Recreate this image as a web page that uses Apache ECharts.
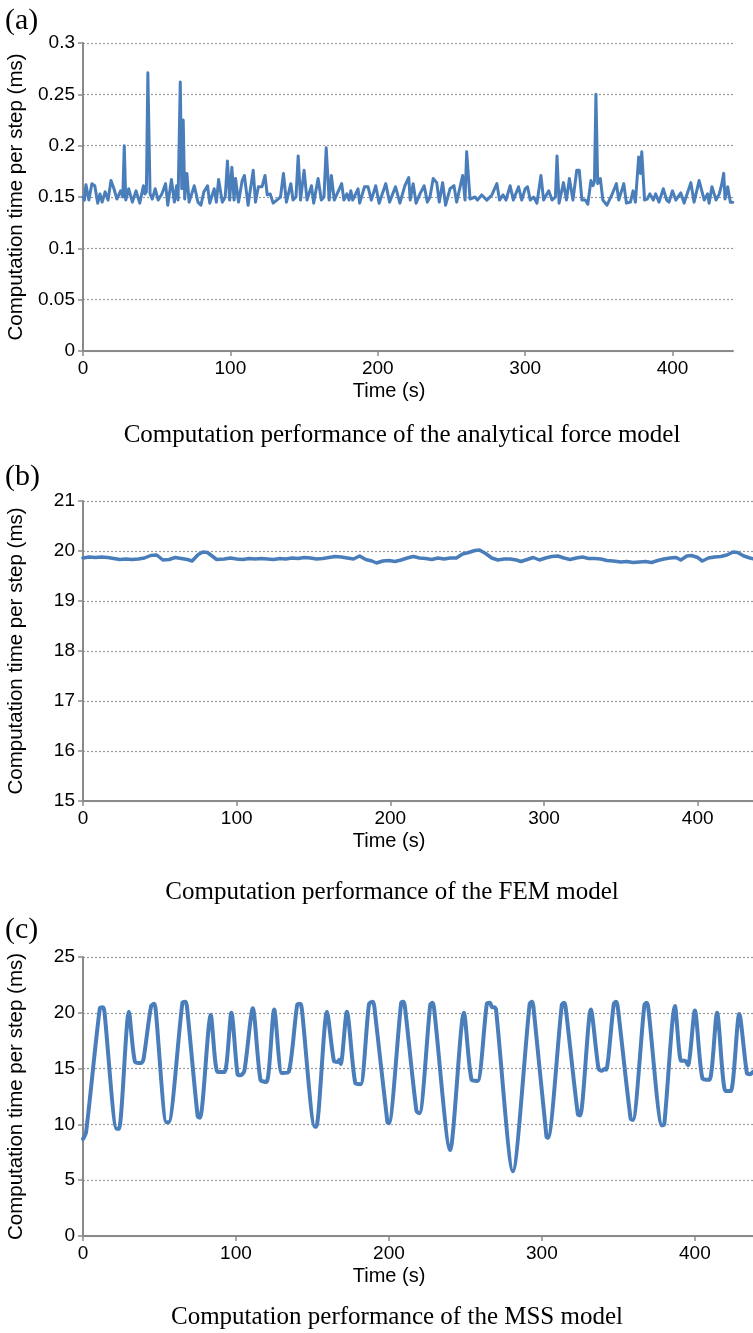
<!DOCTYPE html>
<html>
<head>
<meta charset="utf-8">
<script src="https://cdn.jsdelivr.net/npm/echarts@6/dist/echarts.min.js"></script>
<style>html,body{margin:0;padding:0;background:#fff}#c{width:753px;height:1333px}</style>
</head>
<body>
<div id="c"></div>
<script>
// ---------- DATA ----------
const xTickValues = [0, 100, 200, 300, 400];

// (a) analytical force model
const timeA = [0,1,2,4,6,8,10,11.5,13,15,17,19,21,23,25.5,27,28,29,31,33.5,36,38.5,41,42,43,44,45.5,47,49,51,53.5,56,57.5,60,62,63.5,64.5,66,67,68,69,70.5,72,73,75.5,78,80,82,84.5,86,89,90.5,92,94.5,96.5,98,99.5,101,102.5,103.5,105.5,108,109.5,112,115.5,117,119,121.5,123.5,125,127,129,131.5,134,136,138,141,142.5,144.5,146,147.6,150,152,155,156.5,159.5,161.7,163.5,165,167,168.5,170.5,173,175.5,177,179,180.5,181.7,183,186.6,187.7,191,193.4,195.6,198.6,200.9,205.4,208,212,215,218.4,221,222,224,226,228.6,231.5,233.6,235.4,237.6,240,241.7,244,246,249,251.7,253.5,257.6,259.2,260.3,262.6,266,267.6,270.5,274,277.4,280.8,282.6,285,287,289.8,292,295.5,297.7,300,301.6,303.4,305.7,308,310.7,312.5,316,318.2,320.5,321.6,323,326,328,330,332.4,335,336.7,338.5,340.8,342.5,344.6,346,347,348,349.2,351,352.7,355.5,358.8,361.9,363.5,366.9,368.7,371.4,373.2,374.8,377,378.2,379.1,381,382.8,384.6,386.9,388.5,390.8,393.7,396,397.6,399.9,402.2,405.6,407.8,412.4,414.6,418,421.5,423.7,424.8,426.7,429.5,431.7,433.3,434.7,435.6,437.4,439.2,440.8];
const valueA = [0.150,0.147,0.162,0.147,0.163,0.161,0.144,0.153,0.145,0.155,0.147,0.166,0.158,0.148,0.156,0.150,0.200,0.147,0.158,0.145,0.156,0.144,0.161,0.153,0.155,0.271,0.153,0.148,0.158,0.147,0.153,0.163,0.142,0.167,0.145,0.161,0.147,0.262,0.158,0.225,0.148,0.173,0.145,0.144,0.161,0.145,0.142,0.155,0.161,0.144,0.158,0.145,0.167,0.145,0.150,0.185,0.147,0.179,0.147,0.168,0.145,0.166,0.171,0.142,0.176,0.145,0.160,0.160,0.171,0.152,0.153,0.144,0.147,0.150,0.173,0.145,0.163,0.147,0.150,0.190,0.147,0.176,0.147,0.161,0.144,0.168,0.147,0.150,0.198,0.147,0.171,0.147,0.155,0.163,0.147,0.153,0.147,0.156,0.147,0.158,0.144,0.160,0.160,0.147,0.161,0.144,0.163,0.145,0.160,0.144,0.161,0.169,0.147,0.163,0.144,0.153,0.161,0.145,0.150,0.168,0.164,0.145,0.164,0.142,0.158,0.161,0.145,0.171,0.147,0.194,0.148,0.150,0.147,0.152,0.147,0.152,0.163,0.147,0.152,0.147,0.161,0.147,0.160,0.147,0.158,0.160,0.147,0.150,0.144,0.171,0.147,0.156,0.147,0.150,0.190,0.144,0.164,0.147,0.168,0.147,0.176,0.176,0.147,0.147,0.143,0.166,0.161,0.165,0.250,0.163,0.168,0.147,0.142,0.152,0.163,0.147,0.163,0.144,0.145,0.156,0.145,0.189,0.173,0.194,0.147,0.148,0.153,0.147,0.153,0.145,0.158,0.147,0.145,0.156,0.147,0.154,0.144,0.164,0.145,0.166,0.147,0.153,0.144,0.160,0.147,0.153,0.162,0.173,0.148,0.160,0.145,0.145];
const yTicksA = { min: 0, max: 0.3, step: 0.05 };

// (b) FEM model
const timeB = [0,4,8,12,16,20,24,28,32,36,40,44,48,52,56,60,64,68,71,75,78,81,84,87,92,96,100,104,108,112,116,120,124,128,132,136,140,144,148,152,156,160,164,168,172,176,180,184,188,191,195,199,203,207,211,215,219,223,227,231,235,239,243,247,251,255,258,262,266,270,274,278,282,285,289,293,297,301,305,309,313,317,321,325,329,333,337,341,345,350,354,358,362,366,370,374,378,382,386,389,393,396,400,403,407,411,415,419,423,426,430,434,437];
const valueB = [19.86,19.88,19.87,19.88,19.87,19.85,19.83,19.84,19.83,19.84,19.86,19.91,19.92,19.82,19.83,19.87,19.85,19.83,19.80,19.93,19.98,19.97,19.90,19.83,19.84,19.86,19.84,19.83,19.85,19.84,19.85,19.84,19.83,19.85,19.84,19.86,19.85,19.87,19.86,19.84,19.85,19.87,19.89,19.88,19.86,19.84,19.90,19.83,19.80,19.76,19.80,19.81,19.79,19.82,19.86,19.89,19.86,19.85,19.83,19.86,19.84,19.86,19.86,19.94,19.97,20.01,20.02,19.95,19.86,19.82,19.84,19.84,19.82,19.79,19.83,19.87,19.82,19.86,19.89,19.90,19.86,19.83,19.86,19.88,19.85,19.85,19.84,19.81,19.80,19.78,19.79,19.77,19.78,19.79,19.77,19.81,19.84,19.86,19.87,19.82,19.90,19.91,19.87,19.80,19.86,19.88,19.89,19.92,19.98,19.97,19.90,19.86,19.84];
const yTicksB = { min: 15, max: 21, step: 1 };

// (c) MSS model
const timeC = [0,2,11,13,14,22,23.5,30,34,38,39.5,44.5,46.5,47.5,54.5,56,65,67,68,75,76.5,83.5,88,92.5,97,101,103,105.5,111,116,120,125,130,134.5,140,142,143,151.5,152.5,159.5,164,166.5,167.5,168.5,172.5,178,181.5,187,189.5,190.5,199,200,208,209.5,210.5,218,220,227,228.5,229.5,240,249,254,258,264,266,267.5,269,270,281,292,293.5,294.5,303,304,313,314.5,315.5,323.5,325,332,337,339,341.5,342,347,348.5,349.5,358,359.5,367,368.5,369.5,378.5,380,387,391,393.5,395.5,400,405,409.5,414.5,420,423.5,429,434,436,438];
const valueC = [8.7,9.3,20.4,20.5,20.1,9.6,9.6,20.1,15.6,15.5,15.8,20.6,20.8,20.3,10.2,10.2,20.9,21.0,20.5,10.7,10.6,19.8,14.7,14.7,20.0,14.5,14.4,14.8,20.4,14.0,13.8,20.3,14.6,14.7,20.7,20.8,20.4,9.8,9.8,20.1,15.7,15.6,15.8,15.4,20.1,13.7,13.6,20.8,21.0,20.5,10.2,10.1,20.9,21.0,20.5,11.2,11.0,20.7,20.9,20.4,7.7,20.0,14.0,13.9,20.8,20.9,20.5,20.5,20.3,5.8,20.8,21.0,20.5,8.9,8.8,20.7,20.9,20.5,10.9,10.8,20.3,15.0,14.8,15.0,14.9,20.8,21.0,20.6,10.5,10.4,20.7,20.9,20.5,9.9,10.0,20.6,15.7,15.7,15.3,20.2,14.1,14.0,20.0,13.0,13.0,19.9,14.6,14.5,14.7];
const yTicksC = { min: 0, max: 25, step: 5 };

const panelLabels = ['(a)', '(b)', '(c)'];
const captions = [
  'Computation performance of the analytical force model',
  'Computation performance of the FEM model',
  'Computation performance of the MSS model'
];
const xName = 'Time (s)';
const yName = 'Computation time per step (ms)';

// ---------- CHART ----------
const pair = (t, v) => t.map((x, i) => [x, v[i]]);
const LINE = '#4a7ebb';
const AXIS = '#8a8a8a';
const SANS = '"Liberation Sans", Arial, Helvetica, sans-serif';
const SERIF = '"Liberation Serif", "Times New Roman", serif';

const grids = [
  { left: 83, top: 43, right: 20, height: 308, outerBoundsMode: 'none', containLabel: false },
  { left: 83, top: 501, right: 0, height: 300, outerBoundsMode: 'none', containLabel: false },
  { left: 83, top: 957, right: 0, height: 279, outerBoundsMode: 'none', containLabel: false }
];
const xMax = [441, 436, 438];
const yT = [yTicksA, yTicksB, yTicksC];
const namePadRight = [38, 58, 58];

const xAxes = grids.map((g, i) => ({
  type: 'value', gridIndex: i, min: 0, max: xMax[i], interval: 100,
  name: xName, nameLocation: 'middle', nameGap: 30,
  nameTextStyle: { fontFamily: SANS, fontSize: 20, color: '#000', padding: [0, namePadRight[i], 0, 0] },
  axisLine: { show: true, lineStyle: { color: AXIS, width: 2 } },
  axisTick: { show: true, length: 5, lineStyle: { color: AXIS, width: 1.5 }, customValues: xTickValues },
  axisLabel: { fontFamily: SANS, fontSize: 19, color: '#000', margin: 8, customValues: xTickValues },
  splitLine: { show: false }
}));

const yAxes = grids.map((g, i) => ({
  type: 'value', gridIndex: i, min: yT[i].min, max: yT[i].max, interval: yT[i].step,
  name: yName, nameLocation: 'middle', nameGap: 56, nameRotate: 90,
  nameTextStyle: { fontFamily: SANS, fontSize: 20.5, color: '#000' },
  axisLine: { show: true, lineStyle: { color: AXIS, width: 2 } },
  axisTick: { show: true, length: 5, lineStyle: { color: AXIS, width: 1.5 } },
  axisLabel: { fontFamily: SANS, fontSize: 19, color: '#000', margin: 8 },
  splitLine: { show: true, lineStyle: { color: '#999', width: 1.2, type: [2, 2] } }
}));

const lineW = [3, 3.5, 4];
const datas = [pair(timeA, valueA), pair(timeB, valueB), pair(timeC, valueC)];
const series = datas.map((d, i) => ({
  type: 'line', xAxisIndex: i, yAxisIndex: i, data: d,
  showSymbol: false, symbol: 'none', smooth: i === 2 ? 0.25 : false,
  lineStyle: { color: LINE, width: lineW[i], join: 'round', cap: 'round' },
  animation: false
}));

const labelTops = [6, 462, 915];
const captionCenterY = [435, 892, 1317];
const captionX = [402, 392, 397];
const graphic = [];
panelLabels.forEach((t, i) => {
  graphic.push({ type: 'text', left: 5, top: labelTops[i],
    style: { text: t, font: '30px ' + SERIF, fill: '#000' } });
});
captions.forEach((t, i) => {
  graphic.push({ type: 'text', x: captionX[i], y: captionCenterY[i],
    style: { text: t, font: '25px ' + SERIF, fill: '#000', textAlign: 'center', textVerticalAlign: 'middle' } });
});

const chart = echarts.init(document.getElementById('c'), null, { renderer: 'canvas' });
chart.setOption({
  animation: false,
  backgroundColor: '#fff',
  grid: grids,
  xAxis: xAxes,
  yAxis: yAxes,
  series: series,
  graphic: graphic
});
</script>
</body>
</html>
